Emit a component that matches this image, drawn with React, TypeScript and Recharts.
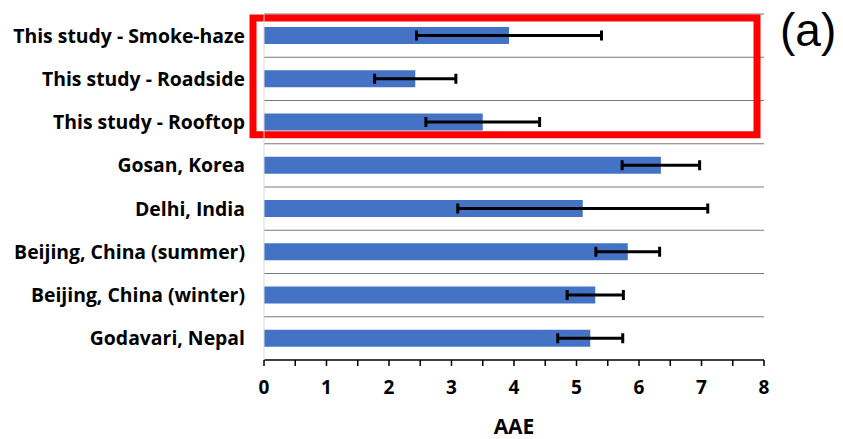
import {
  BarChart, Bar, XAxis, YAxis, CartesianGrid, ErrorBar, ReferenceArea,
} from 'recharts';

const sites = [
  'This study - Smoke-haze',
  'This study - Roadside',
  'This study - Rooftop',
  'Gosan, Korea',
  'Delhi, India',
  'Beijing, China (summer)',
  'Beijing, China (winter)',
  'Godavari, Nepal',
];
const aae = [3.92, 2.42, 3.5, 6.35, 5.1, 5.82, 5.3, 5.22];
const aaeErr = [1.48, 0.65, 0.91, 0.62, 2.0, 0.51, 0.45, 0.52];
const xTicks = [0, 0.5, 1, 1.5, 2, 2.5, 3, 3.5, 4, 4.5, 5, 5.5, 6, 6.5, 7, 7.5, 8];

const FONT = '"Open Sans", Lato, sans-serif';

// box drawn around the rows from this study
const HighlightBox = (props: any) => {
  const { x, y, width, height } = props;
  return (
    <rect
      x={x - 11}
      y={y + 4}
      width={width + 4}
      height={height - 13}
      fill="none"
      stroke="#ff0000"
      strokeWidth={7}
    />
  );
};

export default function App() {
  const data = sites.map((name, i) => ({ name, aae: aae[i], err: aaeErr[i] }));

  // grid lines sit on the row boundaries rather than the row centres
  const rowLines = ({ offset }: any) => {
    const band = offset.height / sites.length;
    return sites.map((_, i) => offset.top + i * band);
  };

  return (
    <div style={{ position: 'absolute', left: 0, top: 0, width: 843, height: 439, background: '#fff' }}>
      <BarChart
        width={843}
        height={439}
        data={data}
        layout="vertical"
        margin={{ top: 14, right: 79, left: 0, bottom: 0 }}
        barSize={17}
      >
        <CartesianGrid
          vertical={false}
          stroke="#7a7a7a"
          horizontalCoordinatesGenerator={rowLines}
        />
        <XAxis
          type="number"
          domain={[0, 8]}
          ticks={xTicks}
          interval={0}
          height={79}
          axisLine={{ stroke: '#000', strokeWidth: 1.5 }}
          tickLine={{ stroke: '#000', strokeWidth: 1.5 }}
          tickSize={6}
          tickMargin={15}
          tickFormatter={(v: number) => (Number.isInteger(v) ? String(v) : '')}
          tick={{ fill: '#000', fontSize: 19, fontWeight: 700, fontFamily: FONT }}
          label={{
            value: 'AAE',
            position: 'insideBottom',
            offset: 5,
            fill: '#000',
            fontSize: 21,
            fontWeight: 700,
            fontFamily: FONT,
          }}
        />
        <YAxis
          type="category"
          dataKey="name"
          width={264}
          axisLine={{ stroke: '#d9d9d9' }}
          tickLine={false}
          tickSize={0}
          tickMargin={19}
          interval={0}
          tick={{ fill: '#000', fontSize: 19.4, fontWeight: 700, fontFamily: FONT }}
        />
        <Bar dataKey="aae" fill="#4472c4" isAnimationActive={false}>
          <ErrorBar dataKey="err" direction="x" stroke="#000" strokeWidth={3} width={5} />
        </Bar>
        <ReferenceArea
          x1={0}
          x2={8}
          y1={sites[0]}
          y2={sites[2]}
          ifOverflow="visible"
          shape={HighlightBox}
        />
      </BarChart>
      <div
        style={{
          position: 'absolute',
          left: 780,
          top: 4,
          fontFamily: '"Liberation Sans", Arial, sans-serif',
          fontSize: 46,
          lineHeight: '52px',
          color: '#000',
        }}
      >
        (a)
      </div>
    </div>
  );
}
